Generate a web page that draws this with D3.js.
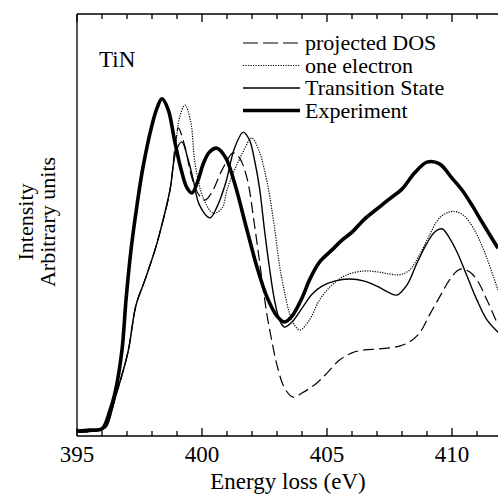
<!DOCTYPE html>
<html lang="en">
<head>
<meta charset="utf-8">
<title>TiN spectra</title>
<script src="https://d3js.org/d3.v7.min.js"></script>
</head>
<body style="margin:0;background:#fff">
<svg id="chart" width="498" height="496" font-family="Liberation Serif"></svg>
<script>
// energies (eV) and intensities (arbitrary units)
var dosE = [395, 395.6, 396, 396.16, 396.56, 397.04, 397.36, 397.72, 398.12, 398.32, 398.72, 398.95, 399.05, 399.3, 399.6, 399.9, 400.12, 400.4, 400.8, 401.25, 401.5, 401.8, 402.1, 402.4, 402.6, 402.8, 403, 403.3, 403.65, 404, 404.5, 405, 405.5, 406, 406.5, 407, 407.5, 407.9, 408.3, 408.7, 409.1, 409.5, 409.9, 410.2, 410.4, 410.7, 411, 411.4, 411.84];
var dosI = [0.9, 1.1, 1.6, 2.1, 9.7, 19.9, 31.0, 37.0, 44.1, 48.3, 58.3, 70.1, 73.0, 69.0, 61.1, 56.9, 55.9, 57.8, 63.0, 67.1, 65.9, 61.1, 50.0, 37.0, 28.7, 22.3, 16.8, 11.4, 9.2, 10.2, 12.1, 14.9, 18.0, 19.7, 20.4, 20.6, 20.9, 21.3, 22.3, 24.4, 28.7, 32.9, 37.0, 39.1, 39.6, 38.9, 37.0, 32.2, 26.3];

var oneE = [395, 395.6, 396, 396.16, 396.56, 397.04, 397.36, 397.72, 398.12, 398.32, 398.72, 398.95, 399.1, 399.32, 399.55, 399.72, 400.05, 400.45, 400.8, 401, 401.3, 401.64, 401.99, 402.3, 402.5, 402.7, 402.9, 403.1, 403.3, 403.5, 403.7, 403.92, 404.3, 404.7, 405.2, 405.8, 406.5, 407, 407.5, 407.9, 408.3, 408.7, 409.1, 409.5, 409.9, 410.2, 410.5, 410.9, 411.3, 411.84];
var oneI = [0.9, 1.1, 1.6, 2.1, 9.7, 19.9, 31.0, 37.0, 44.1, 48.3, 58.3, 69.0, 75.4, 78.4, 74.4, 64.7, 56.4, 52.8, 54.0, 58.3, 63.0, 67.3, 70.6, 67.3, 63.0, 57.1, 49.3, 40.5, 34.1, 29.1, 26.3, 25.1, 27.5, 32.2, 35.8, 38.2, 39.1, 38.9, 38.4, 38.2, 39.3, 42.9, 47.6, 51.7, 53.1, 53.1, 52.1, 48.8, 43.6, 34.6];

var tsE = [395, 395.6, 396, 396.16, 396.56, 397.04, 397.36, 397.72, 398.12, 398.32, 398.72, 398.95, 399.19, 399.45, 399.65, 399.9, 400.32, 400.6, 400.95, 401.3, 401.65, 401.9, 402.1, 402.3, 402.5, 402.7, 402.9, 403.1, 403.3, 403.6, 404, 404.4, 404.8, 405.3, 405.9, 406.5, 407, 407.5, 407.8, 408.2, 408.6, 409, 409.3, 409.6, 409.9, 410.2, 410.6, 411, 411.4, 411.84];
var tsI = [0.9, 1.1, 1.6, 2.1, 9.7, 19.9, 31.0, 37.0, 44.1, 48.3, 58.3, 67.3, 69.7, 65.4, 60.7, 54.7, 51.7, 54.3, 60.0, 68.2, 72.0, 70.1, 65.4, 58.8, 48.8, 39.8, 32.2, 27.5, 25.8, 27.0, 30.3, 33.6, 35.5, 36.7, 37.2, 36.7, 35.5, 33.9, 33.4, 35.8, 41.0, 45.7, 48.3, 49.1, 46.9, 43.6, 37.9, 32.2, 27.5, 24.6];

var expE = [395, 395.5, 396, 396.3, 396.52, 396.8, 396.96, 397.16, 397.4, 397.64, 397.98, 398.2, 398.4, 398.65, 398.9, 399.15, 399.4, 399.6, 399.85, 400.05, 400.3, 400.6, 400.95, 401.3, 401.8, 402.2, 402.6, 403, 403.3, 403.6, 404, 404.3, 404.7, 405.2, 405.6, 406, 406.5, 407, 407.5, 408, 408.5, 409, 409.5, 410, 410.4, 410.8, 411.2, 411.84];
var expI = [1.2, 1.4, 1.7, 5.7, 10.2, 20.4, 32.2, 44.1, 54.7, 63.7, 73.2, 77.7, 79.9, 77.3, 70.1, 63.5, 58.8, 57.6, 60.7, 64.5, 67.3, 68.2, 65.9, 60.0, 48.8, 40.0, 32.9, 28.4, 27.0, 28.4, 32.7, 37.0, 41.2, 44.1, 46.4, 48.3, 51.4, 53.8, 56.2, 58.5, 62.3, 64.9, 64.5, 61.1, 58.3, 54.7, 50.7, 44.5];

var legendNames = ["projected DOS", "one electron", "Transition State", "Experiment"];
var majorTicks = [395, 400, 405, 410];
var minorTicks = [396, 397, 398, 399, 401, 402, 403, 404, 406, 407, 408, 409, 411];

var series = [
  {name: legendNames[0], e: dosE, v: dosI, w: 1.2, dash: "11,5", key: "15,5"},
  {name: legendNames[1], e: oneE, v: oneI, w: 1.2, dash: "1.2,1.3", key: "1.2,1.3"},
  {name: legendNames[2], e: tsE, v: tsI, w: 1.4, dash: null, key: null},
  {name: legendNames[3], e: expE, v: expI, w: 3.6, dash: null, key: null}
];

var plotL = 77, plotT = 14, plotR = 498, plotB = 436;

var xScale = d3.scaleLinear().domain([395, 411.84]).range([plotL, plotR]);
var yScale = d3.scaleLinear().domain([0, 100]).range([plotB, plotT]);

var chart = d3.select("#chart");

// frame lines: left, bottom, top
var frame = chart.append("g").attr("stroke", "black").attr("stroke-width", 1.3);
frame.append("line").attr("x1", plotL).attr("x2", plotL).attr("y1", plotT).attr("y2", plotB);
frame.append("line").attr("x1", plotL).attr("x2", plotR).attr("y1", plotB).attr("y2", plotB);
frame.append("line").attr("x1", plotL).attr("x2", plotR).attr("y1", plotT).attr("y2", plotT);

// inward ticks on bottom and top, placed by the x scale
var tickSet = majorTicks.map(function(v) { return {v: v, len: 8}; })
  .concat(minorTicks.map(function(v) { return {v: v, len: 5}; }));
frame.selectAll(".tb").data(tickSet).enter().append("line")
  .attr("x1", function(d) { return xScale(d.v); })
  .attr("x2", function(d) { return xScale(d.v); })
  .attr("y1", plotB).attr("y2", function(d) { return plotB - d.len; });
frame.selectAll(".tt").data(tickSet).enter().append("line")
  .attr("x1", function(d) { return xScale(d.v); })
  .attr("x2", function(d) { return xScale(d.v); })
  .attr("y1", plotT).attr("y2", function(d) { return plotT + d.len; });

chart.selectAll(".xl").data(majorTicks).enter().append("text")
  .attr("x", function(d) { return xScale(d); })
  .attr("y", 462)
  .attr("text-anchor", "middle")
  .attr("font-family", "Liberation Serif")
  .attr("font-size", 23)
  .attr("fill", "black")
  .text(function(d) { return d; });

// curves, clipped to the frame
chart.append("clipPath").attr("id", "frameclip")
  .append("rect")
  .attr("x", plotL).attr("y", plotT)
  .attr("width", plotR - plotL).attr("height", plotB - plotT);

var spectrum = d3.line()
  .x(function(d) { return xScale(d[0]); })
  .y(function(d) { return yScale(d[1]); })
  .curve(d3.curveCatmullRom.alpha(0.5));

chart.append("g").attr("clip-path", "url(#frameclip)")
  .selectAll("path")
  .data(series)
  .enter()
  .append("path")
  .attr("fill", "none")
  .attr("stroke", "black")
  .attr("stroke-width", function(d) { return d.w; })
  .attr("stroke-dasharray", function(d) { return d.dash; })
  .attr("stroke-linejoin", "round")
  .attr("d", function(d) { return spectrum(d.e.map(function(e, i) { return [e, d.v[i]]; })); });

// titles
chart.append("text")
  .attr("x", 288).attr("y", 489)
  .attr("text-anchor", "middle")
  .attr("font-family", "Liberation Serif")
  .attr("font-size", 23)
  .text("Energy loss (eV)");

var yTitle = chart.append("text")
  .attr("transform", "translate(33,222) rotate(-90)")
  .attr("text-anchor", "middle")
  .attr("font-family", "Liberation Serif")
  .attr("font-size", 22);
yTitle.append("tspan").attr("x", 0).attr("y", 0).text("Intensity");
yTitle.append("tspan").attr("x", 0).attr("y", 22).text("Arbitrary units");

chart.append("text")
  .attr("x", 99).attr("y", 67)
  .attr("font-family", "Liberation Serif")
  .attr("font-size", 23)
  .text("TiN");

// legend
var keys = chart.selectAll(".key")
  .data(series)
  .enter()
  .append("g")
  .attr("class", "key")
  .attr("transform", function(d, i) { return "translate(243," + (43 + i * 22.5) + ")"; });
keys.append("line")
  .attr("x1", 0).attr("x2", 57)
  .attr("stroke", "black")
  .attr("stroke-width", function(d) { return d.w; })
  .attr("stroke-dasharray", function(d) { return d.key; });
keys.append("text")
  .attr("x", 62).attr("y", 7)
  .attr("font-family", "Liberation Serif")
  .attr("font-size", 22)
  .text(function(d) { return d.name; });
</script>
</body>
</html>
